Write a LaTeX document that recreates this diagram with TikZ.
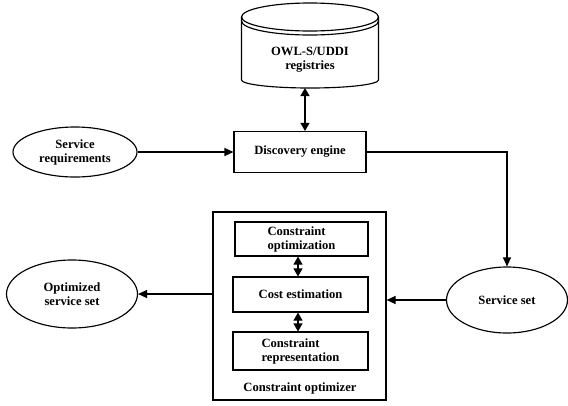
\documentclass[tikz,border=0pt]{standalone}
\usepackage{fontspec}
\setmainfont{Liberation Serif}
\usetikzlibrary{arrows.meta,shapes.geometric}
\begin{document}
\begin{tikzpicture}[x=1pt,y=-1pt,
  line width=1.15pt,
  every node/.style={font=\bfseries\fontsize{12.6}{14}\selectfont, align=center, inner sep=0pt},
  box/.style={draw, rectangle},
  oval/.style={draw, ellipse},
  arr/.style={-{Triangle[length=9pt,width=8pt]}},
  dbl/.style={{Triangle[length=8pt,width=9pt]}-{Triangle[length=8pt,width=9pt]}},
]
\useasboundingbox (0,0) rectangle (568,405);
% cylinder
\draw (310,17) ellipse [x radius=68.5, y radius=14];
\draw (241.5,21) arc[start angle=180, end angle=0, x radius=68.5, y radius=14];
\draw (241.5,17) -- (241.5,80) arc[start angle=180, end angle=0, x radius=68.5, y radius=8] -- (378.5,17);
\node (reg) at (310,60) {OWL-S/UDDI\\registries};
\coordinate (regbot) at (305,88);
% nodes
\node[box, minimum width=132, minimum height=41] (disc) at (300,152) {Discovery engine};
\node[oval, minimum width=124, minimum height=50] (req) at (75,152) {Service\\requirements};
\node[oval, minimum width=121, minimum height=66] (sset) at (507,300) {Service set};
\node[oval, minimum width=131, minimum height=68] (opt) at (72,294) {Optimized\\service set};
\node[box, minimum width=173, minimum height=188] (outer) at (299.5,306) {};
\node[box, align=left, minimum width=133, minimum height=34] (co) at (301.5,239) {Constraint\\optimization};
\node[box, minimum width=135, minimum height=35] (ce) at (300.5,294.5) {Cost estimation};
\node[box, align=left, minimum width=135, minimum height=38] (cr) at (300.5,351) {Constraint\\representation};
\node (lbl) at (300,388) {Constraint optimizer};
% connectors
\draw[dbl] (regbot) -- (regbot |- disc.north);
\draw[arr] (req.east) -- (disc.west);
\draw[arr] (disc.east) -| (sset.north);
\draw[arr] (sset.west) -- (sset.west -| outer.east);
\draw[arr] (opt.east -| outer.west) -- (opt.east);
\draw[dbl] (co.south -| 298,0) -- (ce.north -| 298,0);
\draw[dbl] (ce.south -| 298,0) -- (cr.north -| 298,0);
\end{tikzpicture}
\end{document}
